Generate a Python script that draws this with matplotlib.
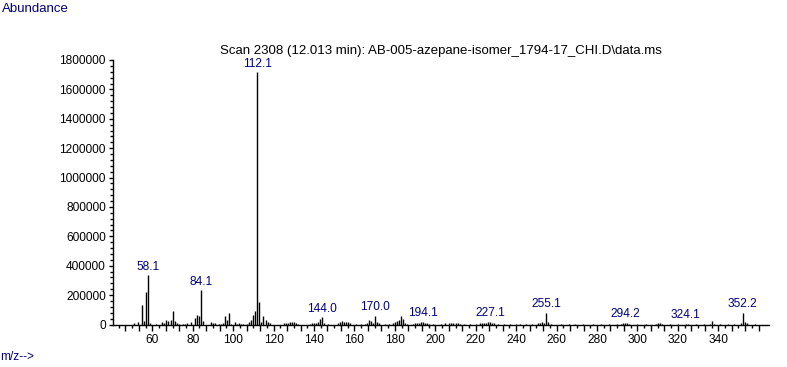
import matplotlib
matplotlib.use("Agg")
import matplotlib.pyplot as plt
from matplotlib.ticker import FixedLocator, MultipleLocator, FuncFormatter
import numpy as np

plt.rcParams['font.family'] = ['Liberation Sans', 'DejaVu Sans']

title = r"Scan 2308 (12.013 min): AB-005-azepane-isomer_1794-17_CHI.D\data.ms"

mz = [51, 53, 55, 56, 57, 58, 59, 62, 65, 66, 67, 68, 69, 70, 71, 72, 73, 75, 76,
      77, 79, 81, 82, 83, 84, 85, 89, 90, 91, 93, 94, 95, 96, 97, 98, 99, 101, 102,
      103, 104, 105, 107, 108, 109, 110, 111, 112, 113, 114, 115, 116, 117, 118,
      125, 126, 127, 128, 129, 130, 131, 132, 138, 139, 140, 141, 142, 143, 144,
      145, 147, 152, 153, 154, 155, 156, 157, 158, 161, 163, 165, 166, 167, 168,
      169, 170, 171, 172, 175, 177, 179, 180, 181, 182, 183, 184, 185, 186, 189,
      190, 191, 192, 193, 194, 195, 196, 197, 199, 203, 205, 207, 208, 209, 210,
      211, 212, 214, 217, 220, 222, 223, 224, 225, 226, 227, 228, 229, 231, 234,
      237, 240, 242, 245, 248, 251, 252, 253, 254, 255, 256, 257, 262, 266, 269,
      273, 278, 282, 286, 290, 292, 293, 294, 295, 296, 300, 304, 309, 310, 311,
      312, 316, 320, 324, 325, 329, 333, 336, 337, 338, 341, 345, 348, 351, 352,
      353, 354, 358]
abundance = [9000, 20000, 136000, 27000, 220000, 334000, 11000, 5000, 14000, 9000,
             34000, 27000, 34000, 90000, 23000, 7000, 6000, 5000, 5000,
             10000, 20000, 45000, 68000, 55000, 232000, 27000, 20000, 7000, 7000,
             5000, 5000, 8000, 57000, 32000, 77000, 5000, 14000, 5000,
             7000, 5000, 5000, 6000, 14000, 32000, 66000, 90000, 1716000, 150000,
             16000, 61000, 34000, 18000, 8000,
             13000, 8000, 10000, 20000, 15000, 20000, 7000, 5000, 6000, 7000, 7000,
             10000, 14000, 36000, 48000,
             8000, 5000, 12000, 20000, 25000, 18000, 14000, 18000, 10000, 5000, 6000,
             6000, 8000, 34000, 25000,
             12000, 61000, 20000, 10000, 5000, 6000, 12000, 15000, 25000, 32000,
             55000, 35000, 12000, 6000, 5000,
             8000, 12000, 10000, 14000, 16000, 13000, 10000, 6000, 5000, 5000, 8000,
             10000, 12000, 9000, 11000,
             8000, 6000, 5000, 5000, 5000, 8000, 10000, 8000, 12000, 14000, 18000,
             12000, 8000, 5000, 5000,
             5000, 5000, 5000, 6000, 5000, 10000, 8000, 16000, 12000, 78000, 14000,
             6000, 5000, 5000, 6000,
             5000, 5000, 5000, 5000, 5000, 6000, 8000, 10000, 7000, 5000, 5000, 5000,
             6000, 8000, 10000,
             6000, 5000, 5000, 6000, 5000, 5000, 5000, 6000, 23000, 6000, 5000, 5000,
             5000, 8000, 80000,
             17000, 7000, 5000]

labeled_mz = [58, 84, 112, 144, 170, 194, 227, 255, 294, 324, 352]
labels = ["58.1", "84.1", "112.1", "144.0", "170.0", "194.1", "227.1", "255.1",
          "294.2", "324.1", "352.2"]

x_labels = [60, 80, 100, 120, 140, 160, 180, 200, 220, 240, 260, 280, 300, 320, 340]
y_ticks = [0, 200000, 400000, 600000, 800000, 1000000, 1200000, 1400000, 1600000, 1800000]

navy = "#000080"
fs = 8.6
fs_text = 9.5

fig = plt.figure(figsize=(7.87, 3.67), dpi=100)
ax = fig.add_axes([112.7 / 787, (367 - 324.5) / 367, (769 - 112.7) / 787, (324.5 - 60) / 367])

ax.vlines(mz, 0, abundance, color="black", lw=1.0)

lookup = dict(zip(mz, abundance))
for m, lab in zip(labeled_mz, labels):
    ax.annotate(lab, (m, lookup[m]), xytext=(0, 2), textcoords="offset points",
                ha="center", va="bottom", color=navy, fontsize=fs)

ax.set_xlim(40.4, 365.1)
ax.set_ylim(0, 1800000)

for s in ["top", "right"]:
    ax.spines[s].set_visible(False)
for s in ["left", "bottom"]:
    ax.spines[s].set_linewidth(1.0)

major_x = [40 + i * 20 / 3 for i in range(49)]
minor_x = [40 + 10 / 3 + i * 20 / 3 for i in range(48)]
ax.xaxis.set_major_locator(FixedLocator(major_x))
ax.xaxis.set_minor_locator(FixedLocator(minor_x))

def xfmt(v, pos):
    r = int(round(v))
    if abs(v - r) < 1e-6 and r in x_labels:
        return str(r)
    return ""
ax.xaxis.set_major_formatter(FuncFormatter(xfmt))

ax.yaxis.set_major_locator(FixedLocator(y_ticks))
ax.yaxis.set_minor_locator(MultipleLocator(40000))
ax.yaxis.set_major_formatter(FuncFormatter(lambda v, p: f"{int(v)}"))

ax.tick_params(axis="x", which="major", length=4.5, width=1, direction="out", pad=2,
               labelsize=fs, colors="black")
ax.tick_params(axis="x", which="minor", length=2.5, width=1, direction="out")
ax.tick_params(axis="y", which="major", length=3, width=1, direction="out", pad=2,
               labelsize=fs, colors="black")
ax.tick_params(axis="y", which="minor", length=2, width=1, direction="out")

ax.set_title(title, fontsize=fs_text, color="black", pad=4)

fig.text(2 / 787, 1 - 9 / 367, "Abundance", color=navy, fontsize=fs_text, ha="left", va="center")
fig.text(0 / 787, 1 - 357 / 367, "m/z-->", color=navy, fontsize=fs, ha="left", va="center")

fig.savefig("out.png", dpi=100)
